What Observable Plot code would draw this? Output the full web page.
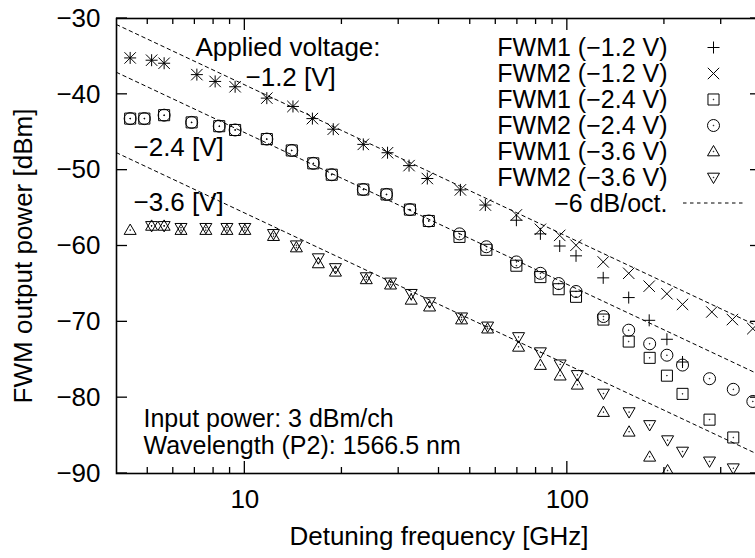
<!DOCTYPE html>
<html><head><meta charset="utf-8">
<script src="https://cdn.jsdelivr.net/npm/d3@7"></script>
<script src="https://cdn.jsdelivr.net/npm/@observablehq/plot@0.6"></script>
<style>body{margin:0;background:#fff;}</style>
</head><body><div id="chart"></div>
<script>
// ---- data ----
const freq12 = [4.41, 5.14, 5.62, 7.10, 8.09, 9.33, 11.7, 14.1, 16.2, 18.8, 23.3, 27.7, 32.3, 36.8, 46.6, 55.7, 69.5, 82.5, 94.7, 106.4, 129.2, 155, 179.4, 203.6, 227.6, 280.5, 325, 376];
const fwm1_12 = [-35.2,-35.5,-35.9,-37.4,-38.3,-39.0,-40.5,-41.6,-43.2,-44.6,-46.6,-47.7,-49.4,-51.1,-52.6,-54.6,-56.6,-58.4,-60.0,-61.3,-64.2,-66.8,-69.8,-72.3,-75.3,null,null,null];
const fwm2_12 = [-35.2,-35.5,-35.9,-37.4,-38.3,-39.0,-40.5,-41.6,-43.2,-44.6,-46.6,-47.7,-49.4,-51.1,-52.6,-54.6,-55.9,-57.8,-58.6,-59.9,-62.1,-63.6,-65.3,-66.3,-67.7,-68.7,-69.7,-70.9];

const freq24 = [4.41, 4.88, 5.62, 6.84, 8.33, 9.33, 11.7, 13.98, 16.3, 18.6, 23.3, 27.5, 32.5, 37.2, 46.3, 56.1, 69.5, 82.5, 94.0, 106.4, 129.4, 155, 180, 203.6, 227.6, 276, 327, 376];
const fwm1_24 = [-43.2,-43.2,-42.75,-43.7,-44.2,-44.7,-45.9,-47.4,-49.1,-50.6,-52.55,-53.2,-55.2,-56.7,-58.8,-60.5,-62.6,-64.1,-65.7,-66.7,-69.7,-72.6,-74.75,-77.1,-79.5,-82.9,-85.25,null];
const fwm2_24 = [-43.2,-43.2,-42.75,-43.7,-44.2,-44.7,-45.9,-47.4,-49.1,-50.6,-52.55,-53.2,-55.2,-56.7,-58.4,-60.1,-62.1,-63.6,-64.95,-66.0,-69.3,-71.1,-72.9,-74.4,-75.7,-77.5,-78.9,-80.5];

const freq36 = [4.41, 5.14, 5.62, 6.34, 7.57, 8.80, 10.0, 12.27, 14.45, 16.9, 19.1, 23.8, 28.3, 32.8, 37.4, 47.0, 56.6, 70.6, 82.5, 95, 107.4, 129.4, 155.4, 180, 204.6, 227.6, 276, 327];
const fwm1_36 = [-57.9,-57.35,-57.35,-57.9,-57.9,-57.9,-57.9,-58.7,-60.2,-62.3,-63.4,-64.4,-65.1,-67.1,-68.0,-69.7,-70.9,-73.3,-75.7,-77.1,-78.3,-81.9,-84.5,-87.8,-89.6,null,null,null];
const fwm2_36 = [null,-57.35,-57.35,-57.6,-57.6,-57.6,-57.6,-58.4,-59.9,-61.6,-62.9,-64.1,-64.8,-66.3,-67.4,-69.4,-70.6,-72.0,-74.0,-75.6,-77.0,-79.45,-81.9,-83.6,-85.6,-87.1,-88.4,-89.3];

// -6 dB/oct guide lines (value at 4 GHz and at 400 GHz)
const guideF = [4, 400];
const guideStart = [-30.8, -37.1, -47.7];
const guideEnd = [-70.8, -77.1, -87.7];

const legendLabels = ["FWM1 (−1.2 V)", "FWM2 (−1.2 V)", "FWM1 (−2.4 V)", "FWM2 (−2.4 V)", "FWM1 (−3.6 V)", "FWM2 (−3.6 V)"];
const guideLabel = "−6 dB/oct.";
const voltageLabels = ["−1.2 [V]", "−2.4 [V]", "−3.6 [V]"];
const noteLines = ["Input power: 3 dBm/ch", "Wavelength (P2): 1566.5 nm"];

const xTickLabels = [10, 100];
const xMinor = [5, 6, 7, 8, 9, 20, 30, 40, 50, 60, 70, 80, 90, 200, 300];
const yTicks = [-90, -80, -70, -60, -50, -40, -30];

// ---- symbols (gnuplot-like point types) ----
function sym(fn) { return { draw(c, size) { fn(c, Math.sqrt(size / Math.PI)); } }; }
function centerDot(c) { c.moveTo(0.35, 0); c.arc(0, 0, 0.35, 0, 2 * Math.PI); }
const symPlus = sym((c, r) => { c.moveTo(-r, 0); c.lineTo(r, 0); c.moveTo(0, -r); c.lineTo(0, r); });
const symTimes = sym((c, r) => { const a = r * 0.95; c.moveTo(-a, -a); c.lineTo(a, a); c.moveTo(-a, a); c.lineTo(a, -a); });
const symSquare = sym((c, r) => { const a = r * 0.92; c.rect(-a, -a, 2 * a, 2 * a); centerDot(c); });
const symCircle = sym((c, r) => { c.moveTo(r, 0); c.arc(0, 0, r, 0, 2 * Math.PI); centerDot(c); });
const symTriUp = sym((c, r) => { c.moveTo(0, -r); c.lineTo(r, 0.72 * r); c.lineTo(-r, 0.72 * r); c.closePath(); centerDot(c); });
const symTriDown = sym((c, r) => { c.moveTo(0, r); c.lineTo(r, -0.72 * r); c.lineTo(-r, -0.72 * r); c.closePath(); centerDot(c); });

const series = [
  {f: freq12, v: fwm1_12, s: symPlus},
  {f: freq12, v: fwm2_12, s: symTimes},
  {f: freq24, v: fwm1_24, s: symSquare},
  {f: freq24, v: fwm2_24, s: symCircle},
  {f: freq36, v: fwm1_36, s: symTriUp},
  {f: freq36, v: fwm2_36, s: symTriDown}
];
const toRows = (f, v) => f.map((x, i) => ({f: x, v: v[i]})).filter(d => d.v != null);

const fmt = d => String(d).replace("-", "−");
const R = 6;

// ticks drawn through the scales
function ticksMark(index, scales, values, dims) {
  const {marginLeft: ml, marginTop: mt, width: w, height: h, marginRight: mr, marginBottom: mb} = dims;
  const top = mt, bottom = h - mb, left = ml, right = w - mr;
  const g = d3.create("svg:g").attr("stroke", "black").attr("stroke-width", 1.3);
  const add = (x1, y1, x2, y2) => g.append("line").attr("x1", x1).attr("y1", y1).attr("x2", x2).attr("y2", y2);
  for (const t of xTickLabels) { const x = scales.x(t); add(x, bottom, x, bottom - 12); add(x, top, x, top + 12); }
  for (const t of xMinor) { const x = scales.x(t); add(x, bottom, x, bottom - 6); add(x, top, x, top + 6); }
  for (const t of yTicks) { const y = scales.y(t); add(left, y, left + 11, y); add(right, y, right - 11, y); }
  return g.node();
}
function legendLine(index, scales, values, dims) {
  const g = d3.create("svg:g");
  const y = dims.marginTop + 29 + 26 * 6;
  g.append("line").attr("x1", dims.marginLeft + 567).attr("x2", dims.marginLeft + 627)
    .attr("y1", y).attr("y2", y).attr("stroke", "black").attr("stroke-width", 1).attr("stroke-dasharray", "3.5,3.5");
  return g.node();
}

const marks = [];
guideStart.forEach((s, i) => {
  marks.push(Plot.line([{f: guideF[0], v: s}, {f: guideF[1], v: guideEnd[i]}],
    {x: "f", y: "v", stroke: "black", strokeWidth: 1, strokeDasharray: "3.5,3.5", clip: true}));
});
series.forEach(se => {
  marks.push(Plot.dot(toRows(se.f, se.v), {x: "f", y: "v", symbol: se.s, r: R, fill: "none", stroke: "black", strokeWidth: 1, clip: true}));
});
marks.push(ticksMark);
marks.push(Plot.frame({stroke: "black", strokeWidth: 1.6}));

// tick labels
marks.push(Plot.text(yTicks, {y: d => d, text: fmt, frameAnchor: "left", textAnchor: "end", lineAnchor: "middle", dx: -16}));
marks.push(Plot.text(xTickLabels, {x: d => d, text: d => String(d), frameAnchor: "bottom", lineAnchor: "top", dy: 16}));
// axis titles
marks.push(Plot.text(["FWM output power [dBm]"], {text: d => d, frameAnchor: "left", rotate: -90, textAnchor: "middle", lineAnchor: "middle", dx: -93, dy: 10}));
marks.push(Plot.text(["Detuning frequency [GHz]"], {text: d => d, frameAnchor: "bottom", textAnchor: "middle", lineAnchor: "middle", dy: 63}));
// annotations
marks.push(Plot.text(["Applied voltage:"], {text: d => d, frameAnchor: "top-left", textAnchor: "start", lineAnchor: "middle", dx: 79, dy: 29}));
const vPos = [[129, 59], [17, 129], [17, 184]];
voltageLabels.forEach((t, i) => marks.push(Plot.text([t], {text: d => d, frameAnchor: "top-left", textAnchor: "start", lineAnchor: "middle", dx: vPos[i][0], dy: vPos[i][1]})));
noteLines.forEach((t, i) => marks.push(Plot.text([t], {text: d => d, frameAnchor: "top-left", textAnchor: "start", lineAnchor: "middle", dx: 27, dy: 400 + 27 * i, fontSize: 25})));
// legend
legendLabels.forEach((t, i) => {
  marks.push(Plot.text([t], {text: d => d, frameAnchor: "top-left", textAnchor: "end", lineAnchor: "middle", dx: 551, dy: 29 + 26 * i, fontSize: 25}));
  marks.push(Plot.dot([0], {frameAnchor: "top-left", dx: 597, dy: 29 + 26 * i, symbol: series[i].s, r: R, fill: "none", stroke: "black", strokeWidth: 1}));
});
marks.push(Plot.text([guideLabel], {text: d => d, frameAnchor: "top-left", textAnchor: "end", lineAnchor: "middle", dx: 551, dy: 29 + 26 * 6, fontSize: 25}));
marks.push(legendLine);

const chart = Plot.plot({
  width: 755, height: 558,
  marginTop: 18, marginBottom: 85, marginLeft: 116, marginRight: -6,
  x: {type: "log", domain: [4, 400], axis: null},
  y: {domain: [-90, -30], axis: null},
  style: {fontFamily: "'Liberation Sans', Arial, sans-serif", fontSize: "26px", background: "white", color: "black", overflow: "hidden"},
  marks
});
document.getElementById("chart").appendChild(chart);
</script>
</body></html>
